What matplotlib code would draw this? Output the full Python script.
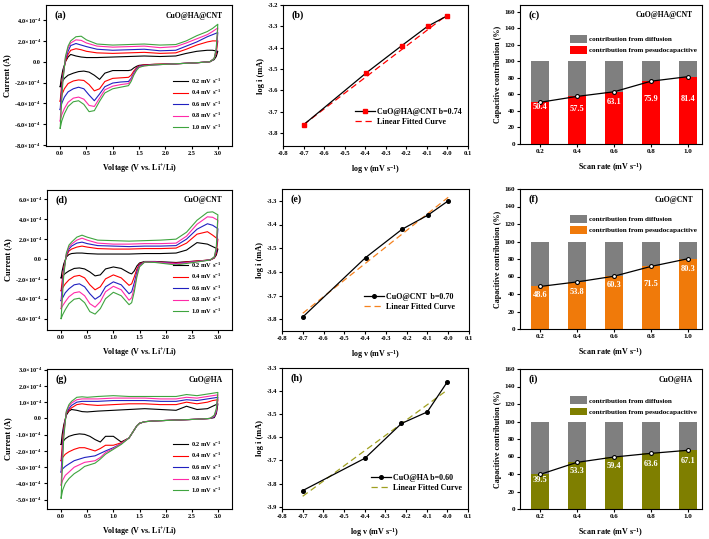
import numpy as np
import matplotlib
matplotlib.use("Agg")
import matplotlib.pyplot as plt
from matplotlib.ticker import FuncFormatter

plt.rcParams['font.family'] = ['Liberation Serif', 'DejaVu Serif']
plt.rcParams['font.weight'] = 'bold'
plt.rcParams['mathtext.default'] = 'regular'
plt.rcParams['axes.linewidth'] = 0.8
plt.rcParams['xtick.major.width'] = 0.8
plt.rcParams['ytick.major.width'] = 0.8
plt.rcParams['xtick.major.size'] = 2.2
plt.rcParams['ytick.major.size'] = 2.2

W, H = 709, 539

# ---------------- data ----------------
scan_labels = ['0.2 mV s$^{-1}$', '0.4 mV s$^{-1}$', '0.6 mV s$^{-1}$',
               '0.8 mV s$^{-1}$', '1.0 mV s$^{-1}$']
scan_rates = ['0.2', '0.4', '0.6', '0.8', '1.0']
log_v = [-0.699, -0.398, -0.222, -0.097, 0.0]

# CV voltages (anodic sweep up, cathodic sweep down)
v_up = [0.0, 0.02, 0.05, 0.1, 0.15, 0.2, 0.3, 0.4, 0.5, 0.7, 1.0, 1.3, 1.6,
        1.9, 2.2, 2.4, 2.6, 2.8, 2.9, 3.0]
v_dn = [3.0, 2.97, 2.93, 2.85, 2.6, 2.2, 1.8, 1.6, 1.5, 1.45, 1.4, 1.35, 1.3,
        1.15, 1.0, 0.85, 0.75, 0.65, 0.55, 0.45, 0.35, 0.25, 0.15, 0.08, 0.03, 0.0]

# (a) CuO@HA@CNT, current in 1e-4 A
a_up = [
    [-2.4, -1.6, -0.8, 0.0, 0.45, 0.7, 0.55, 0.45, 0.4, 0.4, 0.45, 0.5, 0.55, 0.5, 0.55, 0.8, 1.0, 1.1, 1.1, 1.0],
    [-3.8, -2.6, -1.2, 0.0, 0.7, 1.1, 1.25, 1.15, 1.0, 0.85, 0.8, 0.85, 0.9, 0.8, 0.85, 1.2, 1.6, 1.9, 2.0, 2.0],
    [-4.6, -3.2, -1.5, 0.2, 1.0, 1.55, 1.75, 1.6, 1.45, 1.2, 1.1, 1.15, 1.2, 1.05, 1.1, 1.5, 1.9, 2.4, 2.6, 2.8],
    [-5.7, -4.0, -1.8, 0.4, 1.3, 1.8, 2.1, 2.05, 1.8, 1.5, 1.4, 1.45, 1.5, 1.35, 1.45, 1.8, 2.2, 2.6, 2.9, 3.25],
    [-6.4, -4.5, -2.0, 0.5, 1.5, 2.0, 2.4, 2.45, 2.1, 1.7, 1.6, 1.65, 1.7, 1.6, 1.65, 2.0, 2.5, 2.9, 3.2, 3.6],
]
a_dn = [
    [1.0, 0.5, 0.2, 0.0, -0.1, -0.2, -0.25, -0.3, -0.35, -0.45, -0.6, -0.8, -0.85, -0.85, -0.85, -1.1, -1.7, -1.3, -1.0, -0.9, -0.95, -1.1, -1.3, -1.6, -2.0, -2.4],
    [2.0, 0.8, 0.3, 0.0, -0.1, -0.2, -0.25, -0.3, -0.4, -0.6, -0.9, -1.3, -1.5, -1.55, -1.6, -1.9, -2.6, -2.8, -2.2, -1.8, -1.75, -1.85, -2.1, -2.6, -3.2, -3.8],
    [2.8, 1.0, 0.3, 0.0, -0.1, -0.2, -0.3, -0.35, -0.45, -0.7, -1.1, -1.6, -1.9, -1.95, -2.05, -2.4, -3.1, -3.75, -3.2, -2.6, -2.45, -2.6, -2.9, -3.4, -4.0, -4.6],
    [3.25, 1.2, 0.3, 0.0, -0.1, -0.2, -0.3, -0.4, -0.5, -0.8, -1.2, -1.7, -2.1, -2.2, -2.35, -2.7, -3.5, -4.3, -4.2, -3.6, -3.4, -3.5, -3.9, -4.5, -5.1, -5.7],
    [3.6, 1.3, 0.3, 0.0, -0.1, -0.2, -0.3, -0.4, -0.55, -0.85, -1.3, -1.9, -2.3, -2.45, -2.6, -3.0, -3.8, -4.7, -4.8, -4.1, -3.75, -3.85, -4.3, -5.0, -5.7, -6.4],
]

# (d) CuO@CNT
d_up = [
    [-1.9, -1.2, -0.5, 0.2, 0.45, 0.55, 0.6, 0.6, 0.55, 0.5, 0.5, 0.5, 0.55, 0.55, 0.6, 0.9, 1.65, 1.5, 1.25, 1.0],
    [-3.2, -2.2, -0.9, 0.3, 0.8, 1.0, 1.2, 1.3, 1.2, 1.05, 1.0, 1.0, 1.05, 1.05, 1.1, 1.6, 2.5, 2.75, 2.4, 2.0],
    [-4.2, -2.9, -1.2, 0.4, 1.0, 1.3, 1.6, 1.7, 1.55, 1.35, 1.3, 1.25, 1.3, 1.3, 1.35, 2.0, 3.0, 3.55, 3.4, 3.05],
    [-5.0, -3.5, -1.4, 0.5, 1.2, 1.5, 1.9, 2.1, 1.9, 1.6, 1.5, 1.5, 1.55, 1.55, 1.6, 2.3, 3.5, 4.25, 4.2, 3.9],
    [-6.0, -4.2, -1.7, 0.6, 1.4, 1.7, 2.2, 2.4, 2.2, 1.9, 1.85, 1.8, 1.85, 1.9, 2.0, 2.7, 3.9, 4.7, 4.75, 4.45],
]
d_dn = [
    [1.0, 0.4, 0.1, -0.1, -0.2, -0.35, -0.25, -0.25, -0.4, -0.7, -1.2, -1.5, -1.4, -0.95, -0.8, -1.0, -1.6, -1.7, -1.3, -1.0, -0.9, -0.95, -1.2, -1.45, -1.7, -1.9],
    [2.0, 0.6, 0.1, -0.1, -0.2, -0.4, -0.3, -0.3, -0.5, -1.0, -1.8, -2.5, -2.65, -1.9, -1.6, -2.0, -2.8, -3.1, -2.6, -1.9, -1.65, -1.75, -2.1, -2.5, -2.9, -3.2],
    [3.05, 0.8, 0.15, -0.1, -0.25, -0.45, -0.3, -0.3, -0.6, -1.3, -2.4, -3.3, -3.5, -2.6, -2.3, -2.8, -3.7, -4.05, -3.5, -2.8, -2.5, -2.6, -3.0, -3.4, -3.9, -4.2],
    [3.9, 1.0, 0.2, -0.1, -0.25, -0.5, -0.3, -0.3, -0.7, -1.6, -2.9, -3.9, -4.15, -3.1, -2.75, -3.3, -4.3, -4.85, -4.5, -3.7, -3.3, -3.4, -3.8, -4.3, -4.7, -5.0],
    [4.45, 1.2, 0.2, -0.1, -0.3, -0.6, -0.35, -0.3, -0.8, -1.8, -3.3, -4.4, -4.6, -3.7, -3.35, -4.0, -5.0, -5.55, -5.3, -4.4, -3.95, -4.05, -4.5, -5.1, -5.6, -6.0],
]

# (g) CuO@HA
g_up = [
    [-1.6, -1.0, -0.4, 0.2, 0.45, 0.55, 0.5, 0.42, 0.4, 0.45, 0.5, 0.55, 0.6, 0.55, 0.5, 0.75, 0.55, 0.6, 0.75, 0.9],
    [-2.6, -1.7, -0.6, 0.3, 0.5, 0.65, 0.85, 0.9, 0.85, 0.8, 0.85, 0.9, 0.9, 0.85, 0.85, 1.0, 0.9, 1.0, 1.1, 1.15],
    [-3.3, -2.2, -0.8, 0.35, 0.6, 0.8, 1.0, 1.05, 1.05, 1.05, 1.1, 1.1, 1.1, 1.05, 1.05, 1.15, 1.1, 1.2, 1.25, 1.3],
    [-4.1, -2.7, -1.0, 0.4, 0.75, 0.95, 1.15, 1.2, 1.2, 1.2, 1.25, 1.25, 1.25, 1.2, 1.2, 1.3, 1.25, 1.35, 1.4, 1.45],
    [-4.9, -3.3, -1.2, 0.45, 0.85, 1.05, 1.3, 1.33, 1.3, 1.35, 1.4, 1.35, 1.35, 1.35, 1.35, 1.47, 1.4, 1.5, 1.55, 1.6],
]
g_dn = [
    [0.9, 0.3, 0.05, 0.0, -0.05, -0.1, -0.15, -0.2, -0.3, -0.45, -0.7, -0.95, -1.2, -1.45, -1.1, -1.1, -1.45, -1.3, -1.1, -0.98, -0.95, -1.0, -1.1, -1.25, -1.45, -1.6],
    [1.15, 0.35, 0.1, 0.0, -0.05, -0.1, -0.15, -0.2, -0.3, -0.45, -0.7, -0.95, -1.2, -1.5, -1.65, -1.65, -1.85, -2.0, -1.9, -1.8, -1.8, -1.9, -2.05, -2.2, -2.4, -2.6],
    [1.3, 0.4, 0.1, 0.0, -0.05, -0.1, -0.15, -0.2, -0.3, -0.45, -0.7, -0.95, -1.2, -1.55, -1.8, -2.0, -2.15, -2.3, -2.35, -2.4, -2.5, -2.6, -2.8, -2.95, -3.1, -3.3],
    [1.45, 0.5, 0.15, 0.0, -0.05, -0.1, -0.15, -0.2, -0.3, -0.45, -0.7, -0.95, -1.2, -1.55, -1.85, -2.1, -2.4, -2.6, -2.65, -2.7, -2.85, -3.0, -3.3, -3.5, -3.8, -4.1],
    [1.6, 0.6, 0.2, 0.0, -0.05, -0.1, -0.15, -0.2, -0.3, -0.45, -0.7, -0.95, -1.2, -1.6, -1.9, -2.2, -2.5, -2.75, -2.85, -2.95, -3.2, -3.4, -3.7, -4.0, -4.4, -4.9],
]

# log i vs log v
b_logi = [-3.76, -3.52, -3.39, -3.30, -3.25]
b_fit_x = [-0.70, 0.0]
b_fit_y = [-3.76, -3.245]
e_logi = [-3.79, -3.54, -3.42, -3.36, -3.30]
e_fit_x = [-0.70, 0.0]
e_fit_y = [-3.775, -3.285]
h_logi = [-3.83, -3.69, -3.54, -3.49, -3.36]
h_fit_x = [-0.70, 0.0]
h_fit_y = [-3.855, -3.395]

# capacitive contribution (%)
c_pseudo = [50.4, 57.5, 63.1, 75.9, 81.4]
f_pseudo = [48.6, 53.8, 60.3, 71.5, 80.3]
i_pseudo = [39.5, 53.3, 59.4, 63.6, 67.1]

cv_colors = ['#000000', '#FF0000', '#2020C0', '#FF2AA8', '#3FA43F']


def rect(left, top, right, bottom):
    return [left / W, 1 - bottom / H, (right - left) / W, (bottom - top) / H]


def sci_fmt(val, pos):
    if abs(val) < 1e-12:
        return '0.0'
    m = val / 1e-4
    return '%.1f' % m + r'$\times$10$^{-4}$'


def tag(ax, letter, name):
    ax.text(0.045, 0.925, letter, transform=ax.transAxes, fontsize=7.2,
            fontweight='bold', va='center', ha='left')
    if name:
        ax.text(0.95, 0.925, name, transform=ax.transAxes, fontsize=5.5,
                fontweight='bold', va='center', ha='right')


def style_ticks(ax, fs=4.8):
    ax.tick_params(labelsize=fs, direction='out', pad=1.5)
    for lab in ax.get_xticklabels() + ax.get_yticklabels():
        lab.set_fontweight('bold')


def cv_panel(ax, up, dn, ylim, yticks, letter, name):
    for k in range(5):
        vv = v_up + v_dn
        ii = [x * 1e-4 for x in up[k]] + [x * 1e-4 for x in dn[k]]
        ax.plot(vv, ii, color=cv_colors[k], lw=0.8, label=scan_labels[k])
    ax.set_xlim(-0.27, 3.27)
    ax.set_ylim(*ylim)
    ax.set_xticks([0.0, 0.5, 1.0, 1.5, 2.0, 2.5, 3.0])
    ax.set_yticks([t * 1e-4 for t in yticks])
    ax.yaxis.set_major_formatter(FuncFormatter(sci_fmt))
    ax.set_xlabel('Voltage (V vs. Li$^{+}$/Li)', fontsize=5.8, fontweight='bold', labelpad=5)
    ax.set_ylabel('Current (A)', fontsize=6.0, fontweight='bold', labelpad=2)
    style_ticks(ax, 4.5)
    ax.legend(loc='lower right', bbox_to_anchor=(0.965, 0.07), frameon=False,
              fontsize=4.6, handlelength=2.4, labelspacing=0.35, handletextpad=0.4,
              borderpad=0.2)
    tag(ax, letter, name)


def log_panel(ax, logi, fx, fy, mcolor, fcolor, ylim, yticks, label, letter, legpos):
    ax.plot(log_v, logi, color='black', lw=0.9, marker='s' if mcolor != 'black' else 'o',
            ms=2.6, mfc=mcolor, mec=mcolor, label=label, zorder=3)
    ax.plot(fx, fy, color=fcolor, lw=0.9, ls=(0, (5, 3)), label='Linear Fitted Curve', zorder=2)
    ax.set_xlim(-0.8, 0.1)
    ax.set_ylim(*ylim)
    ax.set_xticks(np.round(np.arange(-0.8, 0.11, 0.1), 1))
    ax.xaxis.set_major_formatter(FuncFormatter(lambda v, p: '%.1f' % v))
    ax.set_yticks(yticks)
    ax.yaxis.set_major_formatter(FuncFormatter(lambda v, p: '%.1f' % v))
    ax.set_xlabel('log v (mV s$^{-1}$)', fontsize=5.8, fontweight='bold', labelpad=5)
    ax.set_ylabel('log i (mA)', fontsize=6.0, fontweight='bold', labelpad=2)
    style_ticks(ax, 4.8)
    ax.legend(loc='lower left', bbox_to_anchor=legpos, frameon=False, fontsize=5.8,
              handlelength=2.4, labelspacing=0.25, handletextpad=0.3, borderpad=0.2)
    tag(ax, letter, None)


def bar_panel(ax, pseudo, color, ylim, lab_y, letter, name, legpos):
    x = np.arange(len(scan_rates))
    diff = [100 - p for p in pseudo]
    ax.bar(x, pseudo, width=0.5, color=color, label='contribution from pesudocapacitive', zorder=2)
    ax.bar(x, diff, bottom=pseudo, width=0.5, color='#7F7F7F', label='contribution from diffusion', zorder=2)
    ax.plot(x, pseudo, color='black', lw=0.9, marker='o', ms=2.8, mfc='white', mec='black',
            mew=0.8, zorder=3)
    for xi, p, ly in zip(x, pseudo, lab_y):
        ax.text(xi, ly, '%.1f' % p, color='white', fontsize=6.0, fontweight='bold',
                ha='center', va='center', zorder=4)
    ax.set_xlim(-0.54, 4.38)
    ax.set_ylim(*ylim)
    ax.set_xticks(x)
    ax.set_xticklabels(scan_rates)
    ax.set_yticks(range(0, 161, 20))
    ax.set_xlabel('Scan rate (mV s$^{-1}$)', fontsize=5.8, fontweight='bold', labelpad=5)
    ax.set_ylabel('Capacitive contribution (%)', fontsize=5.8, fontweight='bold', labelpad=2)
    style_ticks(ax, 5.0)
    h, l = ax.get_legend_handles_labels()
    ax.legend(h[::-1], l[::-1], loc='upper left', bbox_to_anchor=legpos, frameon=False,
              fontsize=5.1, handlelength=2.3, handleheight=1.3, labelspacing=0.5,
              handletextpad=0.3, borderpad=0.2)
    tag(ax, letter, name)


fig = plt.figure(figsize=(W / 100, H / 100), dpi=100)

ax_a = fig.add_axes(rect(46, 5, 232, 146))
ax_b = fig.add_axes(rect(283, 5, 468, 146))
ax_c = fig.add_axes(rect(520, 5, 702, 144))
ax_d = fig.add_axes(rect(47, 190, 232, 330))
ax_e = fig.add_axes(rect(282, 189, 469, 331))
ax_f = fig.add_axes(rect(520, 189, 702, 329))
ax_g = fig.add_axes(rect(47, 369, 232, 509))
ax_h = fig.add_axes(rect(282, 368, 468, 509))
ax_i = fig.add_axes(rect(520, 369, 702, 509))

cv_panel(ax_a, a_up, a_dn, (-8.1e-4, 5.45e-4), [4, 2, 0, -2, -4, -6, -8], '(a)', 'CuO@HA@CNT')
cv_panel(ax_d, d_up, d_dn, (-7.15e-4, 6.95e-4), [6, 4, 2, 0, -2, -4, -6], '(d)', 'CuO@CNT')
cv_panel(ax_g, g_up, g_dn, (-5.57e-4, 3.04e-4), [3, 2, 1, 0, -1, -2, -3, -4, -5], '(g)', 'CuO@HA')

log_panel(ax_b, b_logi, b_fit_x, b_fit_y, '#FF0000', '#FF0000', (-3.86, -3.2),
          [-3.8, -3.7, -3.6, -3.5, -3.4, -3.3, -3.2], 'CuO@HA@CNT b=0.74', '(b)', (0.36, 0.1))
log_panel(ax_e, e_logi, e_fit_x, e_fit_y, 'black', '#F5821F', (-3.85, -3.25),
          [-3.8, -3.7, -3.6, -3.5, -3.4, -3.3], 'CuO@CNT  b=0.70', '(e)', (0.41, 0.1))
log_panel(ax_h, h_logi, h_fit_x, h_fit_y, 'black', '#A0A020', (-3.91, -3.3),
          [-3.9, -3.8, -3.7, -3.6, -3.5, -3.4, -3.3], 'CuO@HA b=0.60', '(h)', (0.45, 0.08))

bar_panel(ax_c, c_pseudo, '#FF0000', (0, 168), [44.5, 41.7, 51, 54.3, 54.7], '(c)', 'CuO@HA@CNT', (0.25, 0.82))
bar_panel(ax_f, f_pseudo, '#F07A0A', (0, 160), [39, 42.7, 50.4, 51.5, 68.3], '(f)', 'CuO@CNT', (0.25, 0.85))
bar_panel(ax_i, i_pseudo, '#7F7F00', (0, 160), [33.2, 43.1, 49.2, 51.5, 55.3], '(i)', 'CuO@HA', (0.25, 0.84))

fig.savefig('out.png', dpi=100)
